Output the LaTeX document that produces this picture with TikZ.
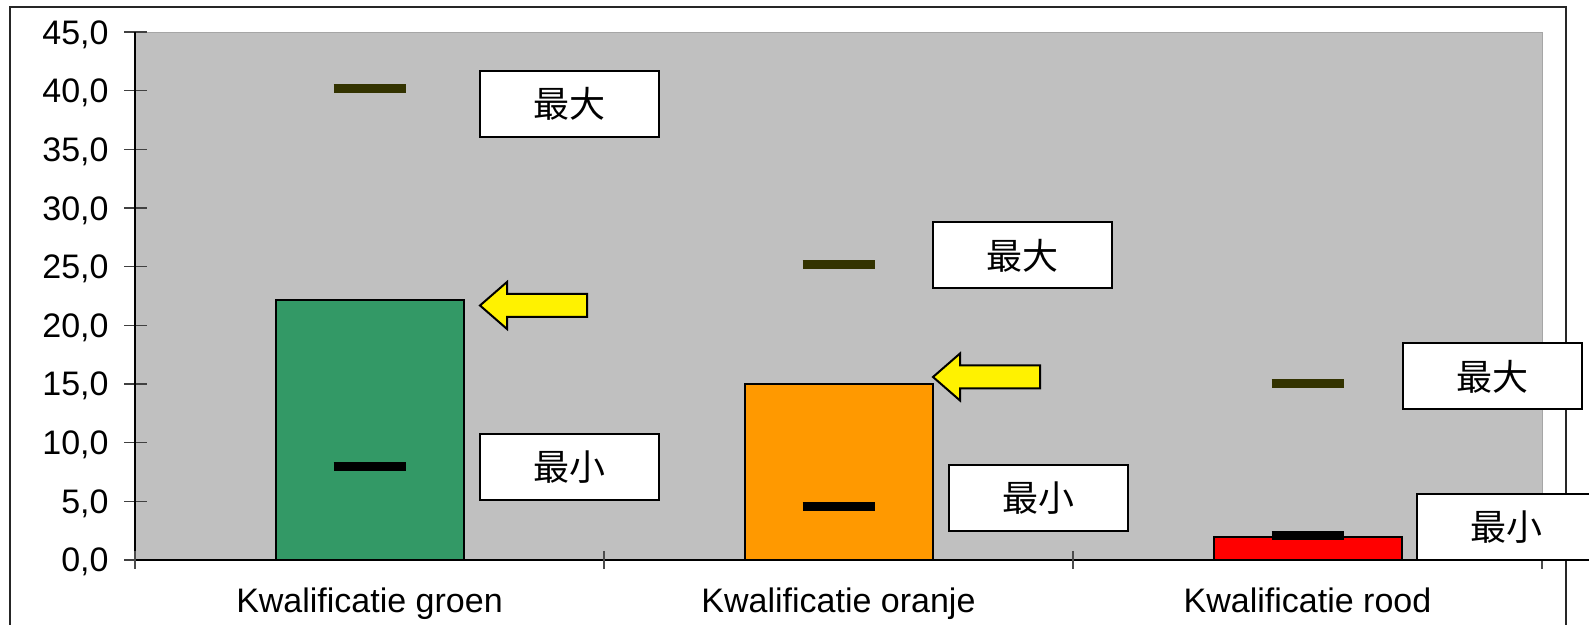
\documentclass[tikz,border=0pt]{standalone}
\usepackage{fontspec}
\setmainfont{Liberation Sans}
\newfontfamily\cjk{Noto Sans CJK SC}
\definecolor{kgroen}{HTML}{339966}
\definecolor{koranje}{HTML}{FF9900}
\definecolor{krood}{HTML}{FF0000}
\definecolor{olijf}{HTML}{333300}
\definecolor{plotgrijs}{HTML}{C0C0C0}

\begin{document}
\begin{tikzpicture}[x=0.5pt, y=0.5pt,
    valbox/.style={draw=black, line width=1pt, fill=white, minimum width=89.5pt,
      minimum height=33pt, inner sep=0pt, font=\cjk\fontsize{18}{20}\selectfont},
    bar/.style={draw=black, line width=1pt},
    maxmark/.style={olijf, line width=4.5pt},
    minmark/.style={black, line width=4.5pt},
    pointer/.style={fill=yellow, draw=black, line width=1pt, line join=miter}]
    \def\vs{11.733}
    \useasboundingbox (0,-65) rectangle (1589,560);

    % Moldura externa
    \draw[line width=1pt, black!85] (10,-65) -- (10,553) -- (1566,553) -- (1566,-65);

    % Área do gráfico
    \fill[plotgrijs] (135,0) rectangle (1542,45*\vs);
    \draw[gray!70] (135,45*\vs) -- (1542,45*\vs) -- (1542,0);

    % Eixo Y: marcas e valores
    \foreach \v in {0,5,...,45} {
        \draw[black!75, line width=0.7pt] (124,\v*\vs) -- (147,\v*\vs);
        \node[anchor=base east, inner sep=0pt, font=\fontsize{17}{20}\selectfont] (y\v) at (109,\v*\vs-12) {\v,0};
    }

    % Eixos e marcas das categorias
    \draw[line width=0.8pt] (135,0) -- (135,45*\vs);
    \draw[line width=1pt] (135,0) -- (1542,0);
    \foreach \x in {135,604,1073,1542}
        \draw[black!70, line width=0.8pt] (\x,9) -- (\x,-9);

    % Barras: centro/altura/cor/mínimo/máximo/nome
    \foreach \cx/\h/\cor/\lo/\hi/\name [count=\i] in {369.5/22.2/kgroen/8.0/40.2/groen,
        838.5/15.0/koranje/4.6/25.2/oranje, 1307.5/2.0/krood/2.1/15.0/rood} {
        \filldraw[bar, fill=\cor] (\cx-94,0) rectangle (\cx+94,\h*\vs);

        % Máximo e mínimo
        \draw[maxmark] (\cx-36,\hi*\vs) -- (\cx+36,\hi*\vs);
        \draw[minmark] (\cx-36,\lo*\vs) -- (\cx+36,\lo*\vs);

        % Nome da categoria
        \node[anchor=base, inner sep=0pt, font=\fontsize{17}{20}\selectfont] (cat\i) at (\cx,-53) {Kwalificatie \name};
    }

    % Setas amarelas
    \foreach \x/\y in {480/254.5, 933/183}
        \filldraw[pointer] (\x,\y) -- ++(27,23.5) -- ++(0,-12) -- ++(80,0) -- ++(0,-23)
            -- ++(-80,0) -- ++(0,-12) -- cycle;

    % Caixas de texto
    \node[valbox] (maxG) at (569.5,456) {最大};
    \node[valbox] (minG) at (569.5,92.5) {最小};
    \node[valbox] (maxO) at (1022.5,304.5) {最大};
    \node[valbox] (minO) at (1038,62) {最小};
    \node[valbox] (maxR) at (1492,183.5) {最大};
    \node[valbox] (minR) at (1506.5,32.5) {最小};
\end{tikzpicture}
\end{document}
